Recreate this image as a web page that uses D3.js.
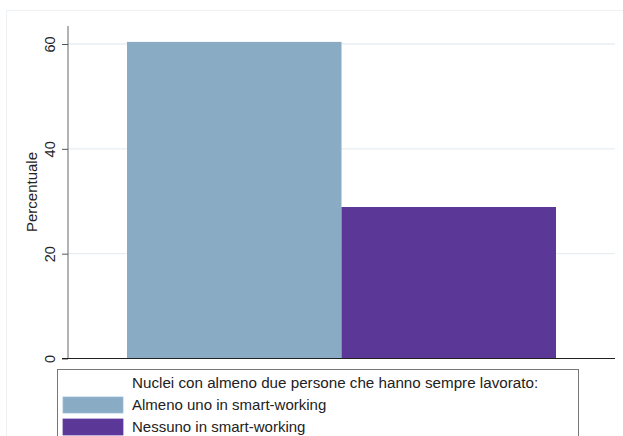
<!DOCTYPE html>
<html><head><meta charset="utf-8">
<script src="https://cdn.jsdelivr.net/npm/d3@7"></script>
<style>body{margin:0;background:#fff}svg{display:block}text{font-family:"Liberation Sans",Arial,sans-serif}</style>
</head><body>
<script>
const categories = ["Almeno uno in smart-working", "Nessuno in smart-working"];
const values = [60.4, 28.9];
const colors = ["#89abc4", "#5b3797"];
const yTicks = [0, 20, 40, 60];
const yLabel = "Percentuale";
const legendTitle = "Nuclei con almeno due persone che hanno sempre lavorato:";

const W = 623, H = 436;
const svg = d3.select("body").append("svg").attr("width", W).attr("height", H);

// outer faint frame
svg.append("rect").attr("x", 6.5).attr("y", 10.5).attr("width", W).attr("height", H)
  .attr("fill", "none").attr("stroke", "#eef2f5");

const y = d3.scaleLinear().domain([0, 60]).range([358.5, 44]);
const x = d3.scaleBand().domain(categories).range([127, 556]).padding(0);

// gridlines
svg.append("g").selectAll("line").data(yTicks.filter(d => d > 0)).join("line")
  .attr("x1", 68).attr("x2", 615).attr("y1", d => y(d)).attr("y2", d => y(d))
  .attr("stroke", "#e6eef2").attr("stroke-width", 1.3);

// bars
svg.append("g").selectAll("rect").data(values).join("rect")
  .attr("x", (d, i) => x(categories[i]))
  .attr("width", x.bandwidth())
  .attr("y", d => y(d))
  .attr("height", d => y(0) - y(d))
  .attr("fill", (d, i) => colors[i]);

// y axis
const yAxis = d3.axisLeft(y).tickValues(yTicks).tickSize(6).tickPadding(5);
const gy = svg.append("g").attr("transform", "translate(68,0)").call(yAxis);
gy.select(".domain").attr("d", "M0,26V358.5").attr("stroke", "#8a8a8a").attr("stroke-width", 1.3);
gy.selectAll(".tick line").attr("stroke", "#555");
gy.selectAll(".tick text")
  .attr("transform", "rotate(-90)")
  .attr("x", 0).attr("y", -18)
  .attr("dy", "0.35em")
  .attr("text-anchor", "middle")
  .attr("font-size", 14.5).attr("fill", "#222")
  .attr("font-family", "Liberation Sans, Arial, sans-serif");

// x axis line
svg.append("line").attr("x1", 62).attr("x2", 615).attr("y1", 358.5).attr("y2", 358.5)
  .attr("stroke", "#222").attr("stroke-width", 1.2);

// y label
svg.append("text").attr("transform", "translate(37,192) rotate(-90)")
  .attr("text-anchor", "middle").attr("font-size", 15).attr("fill", "#222").text(yLabel);

// legend
const lg = svg.append("g");
lg.append("rect").attr("x", 57.5).attr("y", 369.5).attr("width", 521).attr("height", 80)
  .attr("fill", "#fff").attr("stroke", "#777").attr("stroke-width", 1);
lg.append("text").attr("x", 132).attr("y", 388).attr("font-size", 15.2).attr("fill", "#222").text(legendTitle);
categories.forEach((c, i) => {
  const yy = 397 + i * 22;
  lg.append("rect").attr("x", 63).attr("y", yy).attr("width", 60).attr("height", 16)
    .attr("fill", colors[i]).attr("stroke", d3.color(colors[i]).brighter(0.3)).attr("stroke-width", 0.8);
  lg.append("text").attr("x", 132).attr("y", yy + 12.5).attr("font-size", 15).attr("fill", "#222").text(c);
});
</script>
</body></html>
